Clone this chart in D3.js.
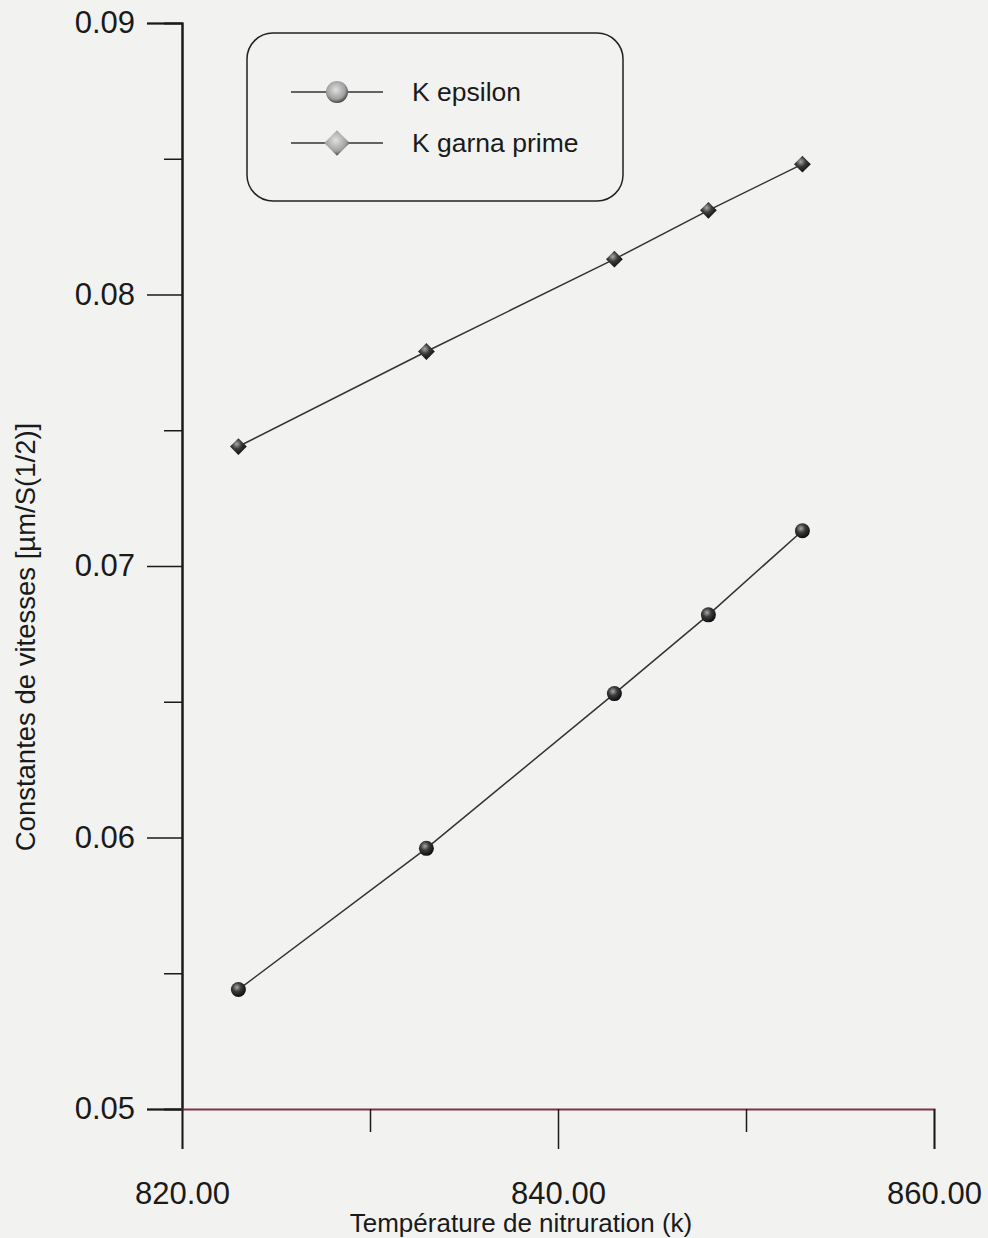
<!DOCTYPE html>
<html>
<head>
<meta charset="utf-8">
<script src="https://cdn.jsdelivr.net/npm/d3@7"></script>
<style>
  body { margin: 0; background: #f2f2f0; }
  svg { display: block; }
  text { font-family: "Liberation Sans", Arial, sans-serif; fill: #1a1a1a; }
</style>
</head>
<body>
<script>
// data
var temps = [823, 833, 843, 848, 853];
var kEpsilon = [0.0544, 0.0596, 0.0653, 0.0682, 0.0713];
var kGamma = [0.0744, 0.0779, 0.0813, 0.0831, 0.0848];
var seriesNames = ['K epsilon', 'K garna prime'];
var yMajor = [0.05, 0.06, 0.07, 0.08, 0.09];
var yMinor = [0.055, 0.065, 0.075, 0.085];
var xMajor = [820, 840, 860];
var xMinor = [830, 850];

var width = 988;
var height = 1238;

var svg = d3.select('body').append('svg')
  .attr('width', width)
  .attr('height', height);

var defs = svg.append('defs');
var grad = defs.append('radialGradient').attr('id', 'ball')
  .attr('cx', '40%').attr('cy', '35%').attr('r', '65%');
grad.append('stop').attr('offset', '0%').attr('stop-color', '#a8a8a8');
grad.append('stop').attr('offset', '45%').attr('stop-color', '#3a3a3a');
grad.append('stop').attr('offset', '100%').attr('stop-color', '#0d0d0d');
var grad2 = defs.append('radialGradient').attr('id', 'ballLight')
  .attr('cx', '45%').attr('cy', '40%').attr('r', '65%');
grad2.append('stop').attr('offset', '0%').attr('stop-color', '#e0e0e0');
grad2.append('stop').attr('offset', '65%').attr('stop-color', '#a0a0a0');
grad2.append('stop').attr('offset', '100%').attr('stop-color', '#2a2a2a');

var x = d3.scaleLinear().domain([820, 860]).range([182, 934]);
var y = d3.scaleLinear().domain([0.05, 0.09]).range([1109, 23]);

// y axis
var yAxisMajor = d3.axisLeft(y).tickValues(yMajor).tickSize(35).tickPadding(12)
  .tickFormat(d3.format('.2f'));
var yAxisMinor = d3.axisLeft(y).tickValues(yMinor).tickSize(18).tickFormat('');

var gy = svg.append('g').attr('transform', 'translate(' + x(820) + ',0)').call(yAxisMajor);
svg.append('g').attr('transform', 'translate(' + x(820) + ',0)').call(yAxisMinor);
gy.selectAll('text').style('font-size', '31px');
svg.selectAll('.domain').attr('stroke', '#1a1a1a').attr('stroke-width', 2);
svg.selectAll('.tick line').attr('stroke', '#1a1a1a').attr('stroke-width', 1.5);

// x axis
var xAxisMajor = d3.axisBottom(x).tickValues(xMajor).tickSize(40).tickPadding(33)
  .tickFormat(d3.format('.2f'));
var xAxisMinor = d3.axisBottom(x).tickValues(xMinor).tickSize(23).tickFormat('');

var gx = svg.append('g').attr('transform', 'translate(0,' + y(0.05) + ')').call(xAxisMajor);
var gx2 = svg.append('g').attr('transform', 'translate(0,' + y(0.05) + ')').call(xAxisMinor);
gx.selectAll('text').style('font-size', '31px');
gx.selectAll('.tick line, .domain').attr('stroke', '#1a1a1a').attr('stroke-width', 1.5);
gx2.selectAll('.tick line').attr('stroke', '#1a1a1a').attr('stroke-width', 1.5);
gx.select('.domain').attr('stroke', '#7a3548').attr('stroke-width', 2);
gx2.select('.domain').remove();

// axis titles
svg.append('text')
  .attr('x', 521).attr('y', 1232)
  .attr('text-anchor', 'middle')
  .style('font-size', '26px')
  .text('Température de nitruration (k)');

svg.append('text')
  .attr('transform', 'translate(35,637) rotate(-90)')
  .attr('text-anchor', 'middle')
  .style('font-size', '27.5px')
  .text('Constantes de vitesses [µm/S(1/2)]');

// lines
var line = d3.line()
  .x(function(d, i) { return x(temps[i]); })
  .y(function(d) { return y(d); });

svg.append('path').datum(kEpsilon)
  .attr('d', line).attr('fill', 'none').attr('stroke', '#333').attr('stroke-width', 1.5);
svg.append('path').datum(kGamma)
  .attr('d', line).attr('fill', 'none').attr('stroke', '#333').attr('stroke-width', 1.5);

// markers
svg.selectAll('circle.eps').data(kEpsilon).enter().append('circle')
  .classed('eps', true)
  .attr('cx', function(d, i) { return x(temps[i]); })
  .attr('cy', function(d) { return y(d); })
  .attr('r', 7.5)
  .attr('fill', 'url(#ball)');

var diamond = d3.symbol().type(d3.symbolDiamond2).size(180);
svg.selectAll('path.gam').data(kGamma).enter().append('path')
  .classed('gam', true)
  .attr('d', diamond)
  .attr('transform', function(d, i) { return 'translate(' + x(temps[i]) + ',' + y(d) + ')'; })
  .attr('fill', 'url(#ball)');

// legend
var legend = svg.append('g');
legend.append('rect')
  .attr('x', 247).attr('y', 33).attr('width', 376).attr('height', 168)
  .attr('rx', 26).attr('ry', 26)
  .attr('fill', 'none').attr('stroke', '#222').attr('stroke-width', 1.5);

var rows = legend.selectAll('g.row').data(seriesNames).enter().append('g')
  .attr('transform', function(d, i) { return 'translate(0,' + (92 + i * 51) + ')'; });
rows.append('line')
  .attr('x1', 291).attr('x2', 383).attr('y1', 0).attr('y2', 0)
  .attr('stroke', '#333').attr('stroke-width', 1.5);
rows.filter(function(d, i) { return i === 0; }).append('circle')
  .attr('cx', 337).attr('cy', 0).attr('r', 11)
  .attr('fill', 'url(#ballLight)');
rows.filter(function(d, i) { return i === 1; }).append('path')
  .attr('d', d3.symbol().type(d3.symbolDiamond2).size(420))
  .attr('transform', 'translate(337,0)')
  .attr('fill', 'url(#ballLight)');
rows.append('text')
  .attr('x', 412).attr('y', 9)
  .style('font-size', '26.5px')
  .text(function(d) { return d; });
</script>
</body>
</html>
